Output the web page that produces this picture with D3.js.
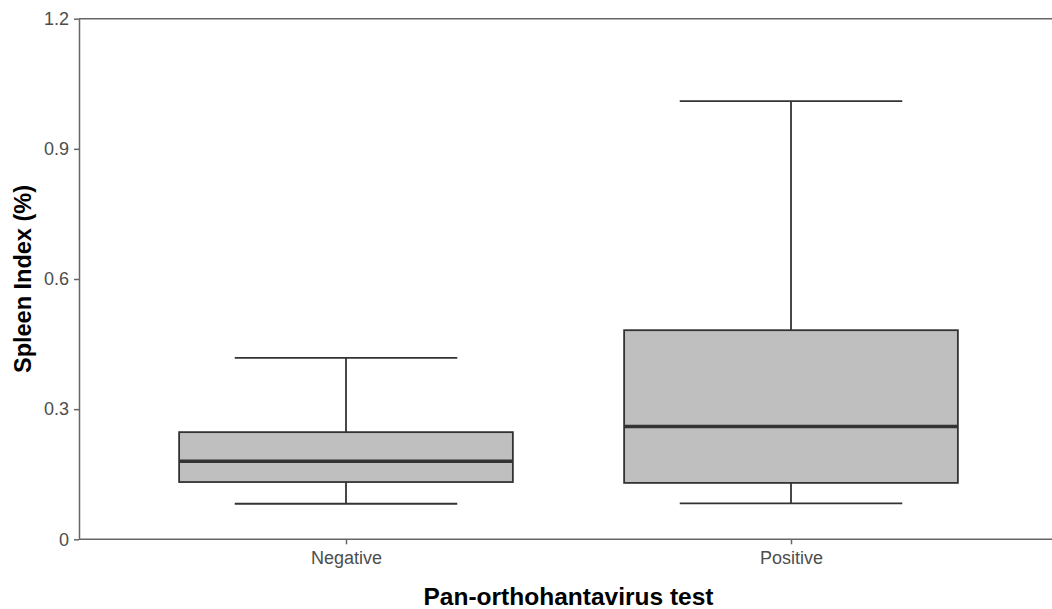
<!DOCTYPE html>
<html>
<head>
<meta charset="utf-8">
<script src="https://cdn.jsdelivr.net/npm/d3@7"></script>
<style>
  html, body { margin: 0; padding: 0; background: #fff; }
  svg { display: block; font-family: "Liberation Sans", Arial, sans-serif; }
</style>
</head>
<body>
<svg id="chart" width="1052" height="609"></svg>
<script>
// Spleen index by pan-orthohantavirus test result (box-and-whisker summary)
const groups = ["Negative", "Positive"];
const whiskerLow = [0.082, 0.083];
const q1 = [0.132, 0.130];
const median = [0.180, 0.260];
const q3 = [0.247, 0.482];
const whiskerHigh = [0.418, 1.010];
const yTicks = [0, 0.3, 0.6, 0.9, 1.2];
const yTickLabels = ["0", "0.3", "0.6", "0.9", "1.2"];

const svg = d3.select("#chart");
const plotLeft = 79, plotRight = 1058, plotTop = 18.7, plotBottom = 539.3;

const x = d3.scalePoint().domain(groups).range([plotLeft, plotRight]).padding(0.6);
const y = d3.scaleLinear().domain([0, 1.2]).range([plotBottom, plotTop]);

const boxW = x.step() * 0.75;
const capW = x.step() * 0.5;

const rows = groups.map((g, i) => ({
  g, lo: whiskerLow[i], q1: q1[i], med: median[i], q3: q3[i], hi: whiskerHigh[i]
}));

const axisColor = "#666666";
const textColor = "#4d4d4d";
const markColor = "#333333";

// panel top border
svg.append("line")
  .attr("x1", plotLeft).attr("x2", plotRight)
  .attr("y1", y(1.2)).attr("y2", y(1.2))
  .attr("stroke", axisColor).attr("stroke-width", 1.5);

// y axis
const yAxis = svg.append("g")
  .attr("transform", `translate(${plotLeft},0)`)
  .call(d3.axisLeft(y).tickValues(yTicks)
    .tickFormat((d, i) => yTickLabels[i]).tickSize(5).tickPadding(5).tickSizeOuter(0));
yAxis.select(".domain").attr("stroke", axisColor).attr("stroke-width", 1.5);
yAxis.selectAll(".tick line").attr("stroke", axisColor).attr("stroke-width", 1.5);
yAxis.selectAll(".tick text").attr("fill", textColor)
  .style("font-size", "18px").style("font-family", "'Liberation Sans', Arial, sans-serif");

// x axis
const xAxis = svg.append("g")
  .attr("transform", `translate(0,${plotBottom})`)
  .call(d3.axisBottom(x).tickSize(5).tickPadding(7).tickSizeOuter(0));
xAxis.select(".domain").attr("stroke", axisColor).attr("stroke-width", 1.5)
  .attr("d", `M${plotLeft},0H${plotRight}`);
xAxis.selectAll(".tick line").attr("stroke", axisColor).attr("stroke-width", 1.5);
xAxis.selectAll(".tick text").attr("fill", textColor)
  .style("font-size", "18px").style("font-family", "'Liberation Sans', Arial, sans-serif");

// boxes
const box = svg.append("g").selectAll("g").data(rows).join("g");

// whisker stems
box.append("line")
  .attr("x1", d => x(d.g)).attr("x2", d => x(d.g))
  .attr("y1", d => y(d.q3)).attr("y2", d => y(d.hi))
  .attr("stroke", markColor).attr("stroke-width", 1.8);
box.append("line")
  .attr("x1", d => x(d.g)).attr("x2", d => x(d.g))
  .attr("y1", d => y(d.q1)).attr("y2", d => y(d.lo))
  .attr("stroke", markColor).attr("stroke-width", 1.8);

// whisker caps
box.append("line")
  .attr("x1", d => x(d.g) - capW / 2).attr("x2", d => x(d.g) + capW / 2)
  .attr("y1", d => y(d.hi)).attr("y2", d => y(d.hi))
  .attr("stroke", markColor).attr("stroke-width", 1.8);
box.append("line")
  .attr("x1", d => x(d.g) - capW / 2).attr("x2", d => x(d.g) + capW / 2)
  .attr("y1", d => y(d.lo)).attr("y2", d => y(d.lo))
  .attr("stroke", markColor).attr("stroke-width", 1.8);

// interquartile box
box.append("rect")
  .attr("x", d => x(d.g) - boxW / 2)
  .attr("width", boxW)
  .attr("y", d => y(d.q3))
  .attr("height", d => y(d.q1) - y(d.q3))
  .attr("fill", "#bfbfbf")
  .attr("stroke", markColor).attr("stroke-width", 1.8);

// median
box.append("line")
  .attr("x1", d => x(d.g) - boxW / 2).attr("x2", d => x(d.g) + boxW / 2)
  .attr("y1", d => y(d.med)).attr("y2", d => y(d.med))
  .attr("stroke", markColor).attr("stroke-width", 3.6);

// axis titles
svg.append("text")
  .attr("x", (plotLeft + plotRight) / 2).attr("y", 605)
  .attr("text-anchor", "middle")
  .attr("font-weight", "bold").attr("font-size", 24.5).attr("fill", "#000")
  .text("Pan-orthohantavirus test");

svg.append("text")
  .attr("transform", "translate(31,279) rotate(-90)")
  .attr("text-anchor", "middle")
  .attr("font-weight", "bold").attr("font-size", 23.5).attr("fill", "#000")
  .text("Spleen Index (%)");
</script>
</body>
</html>
